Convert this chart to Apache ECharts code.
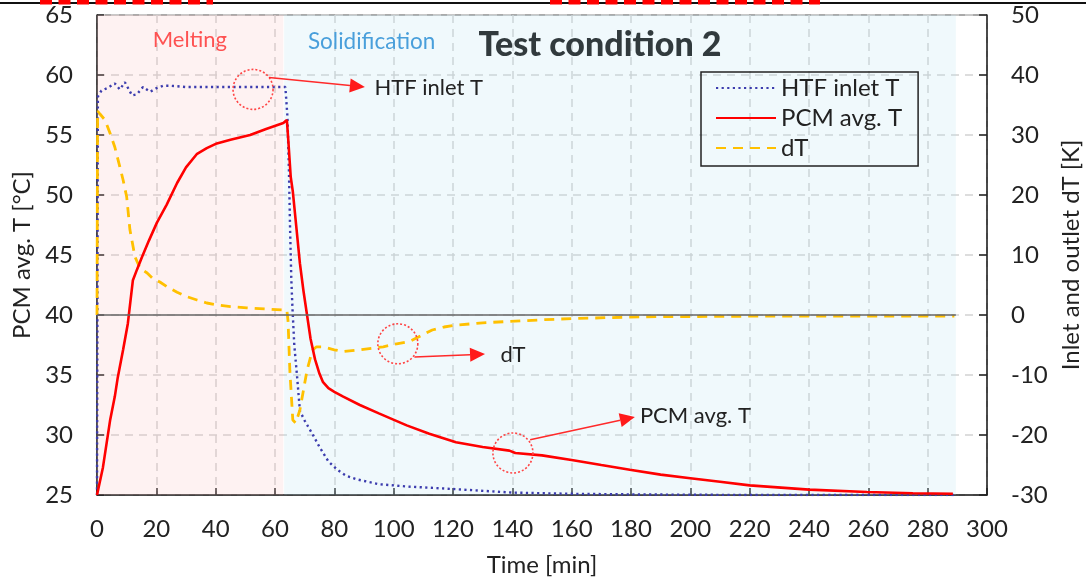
<!DOCTYPE html>
<html>
<head>
<meta charset="utf-8">
<style>
  html, body { margin: 0; padding: 0; background: #fff; }
  #chart { width: 1086px; height: 579px; }
</style>
<script src="https://cdn.jsdelivr.net/npm/echarts@6/dist/echarts.min.js"></script>
</head>
<body>
<div id="chart"></div>
<script>
// HTF inlet temperature [°C] (left axis)
const htfTime = [0, 0.3, 1.5, 3.4, 6, 7.7, 9.4, 11.8, 13.5, 15.5, 17.9, 20, 22.3, 25, 30, 40, 50, 60, 63.5, 64.2, 64.7, 65.1, 65.5, 65.9, 66.5, 67.4, 68.4, 70, 72.8, 75, 78, 81, 84, 87.6, 95, 105, 120, 140, 160, 180, 220, 289];
const htfTemp = [25, 58.2, 58.7, 58.9, 59.3, 58.8, 59.4, 58.3, 58.4, 59.0, 58.6, 58.9, 59.1, 59.1, 59.0, 59.0, 59.0, 59.0, 59.0, 56.5, 52, 47, 43, 40.5, 37.5, 35, 32, 31.2, 30, 29, 27.8, 27.1, 26.6, 26.3, 25.9, 25.7, 25.5, 25.2, 25.1, 25.05, 25.0, 25.0];

// PCM average temperature [°C] (left axis)
const pcmTime = [0, 2, 4.4, 6, 7, 8.8, 10.4, 12.1, 13.5, 15.1, 17.5, 20.2, 23.5, 27, 30, 33.6, 37, 40.4, 45, 51.6, 57, 62.8, 64, 64.5, 65.3, 66, 67, 68.4, 69.6, 70.8, 72, 73.5, 75, 76.2, 78, 80, 83, 88.6, 95, 104.4, 112, 121, 130, 139, 141, 150, 160.5, 170, 179.6, 190, 200, 210, 220, 240, 259.5, 275, 288.5];
const pcmTemp = [25, 27.3, 31.2, 33.2, 34.8, 37.1, 39.3, 42.9, 43.8, 44.8, 46.2, 47.7, 49.2, 51, 52.3, 53.4, 53.9, 54.3, 54.6, 55.0, 55.5, 56.0, 56.25, 54.5, 51.5, 50.3, 47.8, 44.3, 42, 40, 38, 36.3, 35.1, 34.4, 33.9, 33.6, 33.2, 32.5, 31.8, 30.8, 30.1, 29.4, 29.0, 28.7, 28.5, 28.3, 27.9, 27.5, 27.1, 26.7, 26.4, 26.1, 25.8, 25.45, 25.25, 25.15, 25.1];

// inlet and outlet dT [K] (right axis)
const dtTime = [0, 0.2, 1, 2.7, 4.4, 6, 7.7, 8.8, 10, 11.1, 12.8, 14.5, 16.9, 19, 21.2, 24, 27, 30, 33.7, 37, 40.4, 45, 50.5, 57, 64, 64.4, 65, 66, 67, 68.4, 69.6, 70.8, 72, 72.8, 74, 76, 80, 83, 88.6, 96.5, 101, 105.5, 109, 113, 117, 121, 130, 138, 150, 160, 183, 220, 289];
const dtValue = [0, 34, 33.5, 32.5, 30.3, 28, 24.7, 22.5, 19.7, 14.2, 9.7, 7.8, 7, 6, 5.5, 4.6, 3.8, 3.1, 2.5, 2, 1.7, 1.4, 1.2, 1.0, 0.8, -1, -9.2, -17.5, -18, -15.8, -12.5, -9.2, -7, -5.8, -5.3, -5.3, -5.8, -6.1, -5.8, -5.3, -4.8, -4.4, -3.5, -2.5, -2, -1.7, -1.3, -1.1, -0.8, -0.6, -0.3, -0.2, -0.2];

const xTicks = { min: 0, max: 300, interval: 20 };
const phases = [
  { name: "Melting", from: 0, to: 62.8, color: "rgba(250,185,185,0.19)", text: "#ff3b3b" },
  { name: "Solidification", from: 63.1, to: 289.5, color: "rgba(180,225,240,0.2)", text: "#2f8fd6" },
];

// callouts: circle centre, arrow start, arrow tip, label (time, °C)
const callouts = [
  { text: "HTF inlet T", circle: [52.6, 58.8], from: [58.0, 59.8], to: [90.3, 59.0], label: [93.5, 58.95] },
  { text: "dT", circle: [101.4, 37.6], from: [107, 36.5], to: [130.8, 36.75], label: [136, 36.7] },
  { text: "PCM avg. T", circle: [140.2, 28.5], from: [146, 29.6], to: [181.3, 31.5], label: [183, 31.6] },
];

const zip = (a, b) => a.map((v, i) => [v, b[i]]);
const FONT = "Lato";

const chart = echarts.init(document.getElementById("chart"));

const axisText = { fontFamily: FONT, fontSize: 24, color: "#222" };

chart.setOption({
  animation: false,
  grid: {
    left: 97,
    right: 99,
    top: 15,
    bottom: 84,
    outerBoundsMode: "none",
    show: true,
    borderColor: "#555",
    borderWidth: 1,
  },
  legend: {
    left: 701,
    top: 72,
    orient: "vertical",
    itemWidth: 60,
    itemHeight: 24,
    itemGap: 6,
    padding: [4, 16, 6, 14],
    borderColor: "#222",
    borderWidth: 1.5,
    borderRadius: 0,
    itemStyle: { opacity: 0 },
    textStyle: { fontFamily: FONT, fontSize: 24, color: "#222" },
    data: ["HTF inlet T", "PCM avg. T", "dT"],
  },
  xAxis: {
    type: "value",
    min: xTicks.min,
    max: xTicks.max,
    interval: xTicks.interval,
    name: "Time [min]",
    nameLocation: "middle",
    nameGap: 58,
    nameTextStyle: axisText,
    axisLine: { onZero: false, lineStyle: { color: "#222", width: 1.5 } },
    axisTick: { inside: true, length: 7, lineStyle: { color: "#222", width: 1.5 } },
    axisLabel: Object.assign({ margin: 22 }, axisText),
    splitLine: { show: true, lineStyle: { color: "#d2d2d2", width: 1.5, type: [8, 6] } },
  },
  yAxis: [
    {
      type: "value",
      min: 25,
      max: 65,
      interval: 5,
      name: "PCM avg. T [°C]",
      nameLocation: "middle",
      nameGap: 62,
      nameTextStyle: axisText,
      axisLine: { show: true, lineStyle: { color: "#222", width: 1.5 } },
      axisTick: { show: true, inside: true, length: 7, lineStyle: { color: "#222", width: 1.5 } },
      axisLabel: Object.assign({ margin: 24 }, axisText),
      splitLine: { show: true, lineStyle: { color: "#d2d2d2", width: 1.5, type: [8, 6] } },
    },
    {
      type: "value",
      position: "right",
      min: -30,
      max: 50,
      interval: 10,
      name: "Inlet and outlet dT [K]",
      nameLocation: "middle",
      nameGap: 72,
      nameTextStyle: axisText,
      axisLine: { show: true, lineStyle: { color: "#222", width: 1.5 } },
      axisTick: { show: true, inside: true, length: 8, lineStyle: { color: "#222", width: 1.5 } },
      axisLabel: Object.assign({ margin: 24 }, axisText),
      splitLine: { show: false },
    },
  ],
  series: [
    {
      name: "HTF inlet T",
      type: "line",
      yAxisIndex: 0,
      symbol: "none",
      z: 3,
      data: zip(htfTime, htfTemp),
      lineStyle: { color: "#3c3cae", width: 2.4, type: [2.2, 3.4] },
      itemStyle: { color: "#3c3cae" },
      markArea: {
        silent: true,
        data: phases.map((p) => [
          { xAxis: p.from, itemStyle: { color: p.color } },
          { xAxis: p.to },
        ]),
      },
    },
    {
      name: "PCM avg. T",
      type: "line",
      yAxisIndex: 0,
      symbol: "none",
      z: 4,
      data: zip(pcmTime, pcmTemp),
      lineStyle: { color: "#ff0000", width: 2.6 },
      itemStyle: { color: "#ff0000" },
    },
    {
      name: "dT",
      type: "line",
      yAxisIndex: 1,
      symbol: "none",
      z: 3,
      data: zip(dtTime, dtValue),
      lineStyle: { color: "#ffc000", width: 2.8, type: [10, 7] },
      itemStyle: { color: "#ffc000" },
      markLine: {
        silent: true,
        symbol: "none",
        label: { show: false },
        lineStyle: { color: "#666", width: 1.5, type: "solid" },
        data: [[{ coord: [0, 0] }, { coord: [289.5, 0] }]],
      },
    },
  ],
});

// annotations drawn on top, placed through the axes
const px = (p) => chart.convertToPixel({ xAxisIndex: 0, yAxisIndex: 0 }, p);
const graphics = [];

// title
graphics.push({
  type: "text",
  x: 600,
  y: 45,
  style: {
    text: "Test condition 2",
    font: "900 34px " + FONT,
    fill: "#111",
    align: "center",
    verticalAlign: "middle",
  },
});

// phase labels
const melt = px([31.3, 62.9]);
graphics.push({
  type: "text", x: melt[0], y: melt[1],
  style: { text: phases[0].name, font: "22px " + FONT, fill: phases[0].text, align: "center", verticalAlign: "middle" },
});
const sol = px([71.1, 62.8]);
graphics.push({
  type: "text", x: sol[0], y: sol[1],
  style: { text: phases[1].name, font: "22.5px " + FONT, fill: phases[1].text, align: "left", verticalAlign: "middle" },
});

callouts.forEach((c) => {
  const ctr = px(c.circle);
  graphics.push({
    type: "circle",
    shape: { cx: ctr[0], cy: ctr[1], r: 20 },
    style: { fill: "none", stroke: "#ff4545", lineWidth: 1.6, lineDash: [2, 2] },
    z: 100,
  });
  const a = px(c.from);
  const b = px(c.to);
  const dx = b[0] - a[0];
  const dy = b[1] - a[1];
  const len = Math.sqrt(dx * dx + dy * dy);
  const ux = dx / len, uy = dy / len;
  const bx = b[0] - ux * 15, by = b[1] - uy * 15;
  graphics.push({
    type: "line",
    shape: { x1: a[0], y1: a[1], x2: bx, y2: by },
    style: { stroke: "#ff2a2a", lineWidth: 1.5 },
    z: 100,
  });
  graphics.push({
    type: "polygon",
    shape: { points: [[b[0], b[1]], [bx - uy * 7, by + ux * 7], [bx + uy * 7, by - ux * 7]] },
    style: { fill: "#ff1a1a" },
    z: 100,
  });
  const l = px(c.label);
  graphics.push({
    type: "text", x: l[0], y: l[1],
    style: { text: c.text, font: "22px " + FONT, fill: "#222", align: "left", verticalAlign: "middle" },
    z: 100,
  });
});

// cropped frame edge at the very top of the picture
graphics.push({
  type: "line",
  shape: { x1: 0, y1: 3, x2: 1086, y2: 3 },
  style: { stroke: "#111", lineWidth: 2 },
});
[[40, 213], [550, 820]].forEach((seg) => {
  graphics.push({
    type: "line",
    shape: { x1: seg[0], y1: 2, x2: seg[1], y2: 2 },
    style: { stroke: "#ff0000", lineWidth: 5, lineDash: [12, 6.5] },
  });
});

chart.setOption({ graphic: graphics });
</script>
</body>
</html>
